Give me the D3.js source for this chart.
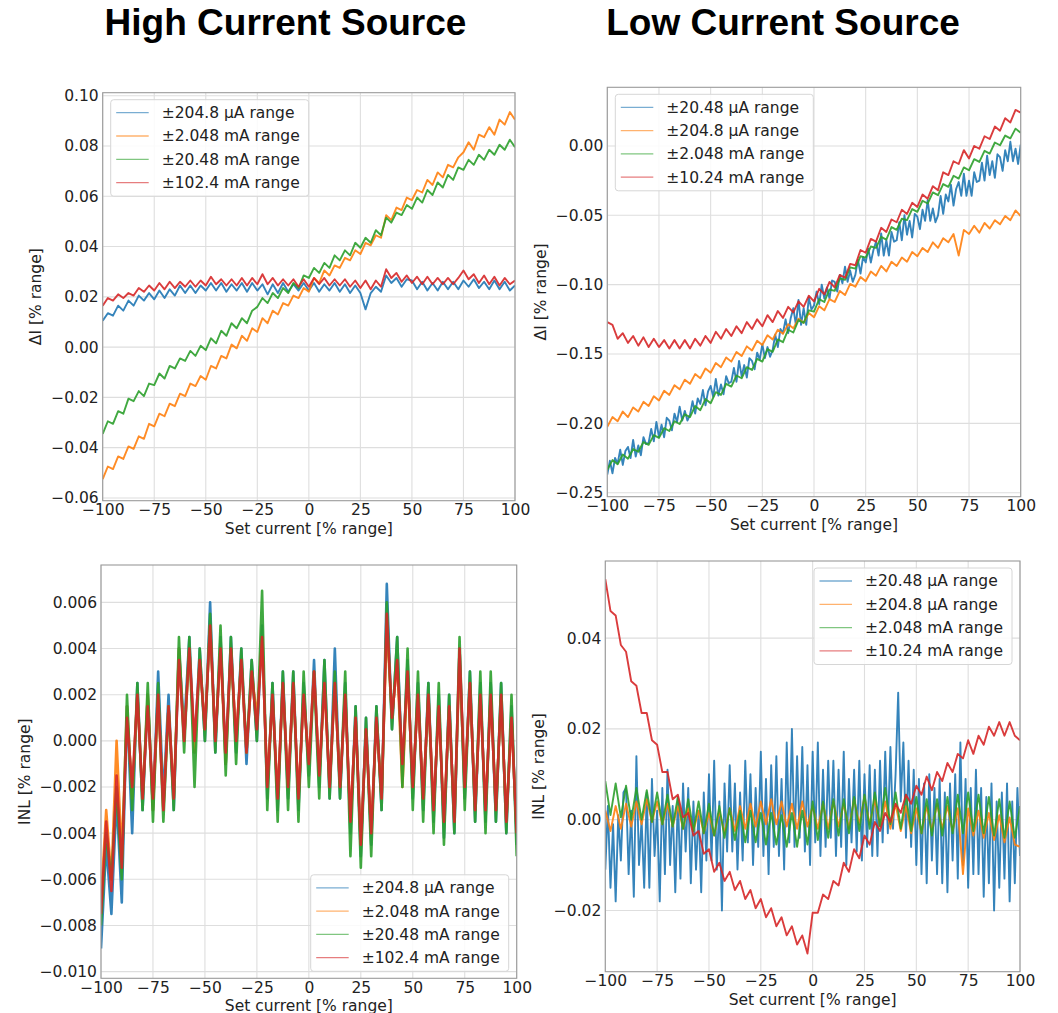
<!DOCTYPE html>
<html>
<head>
<meta charset="utf-8">
<script src="https://cdn.jsdelivr.net/npm/d3@7"></script>
<style>
  body { margin: 0; background: #fff; }
  svg { display: block; }
  .tick text { font-family: "DejaVu Sans", sans-serif; font-size: 15.5px; fill: #222; }
  .lbl { font-family: "DejaVu Sans", sans-serif; font-size: 15.5px; fill: #222; }
  .ttl { font-family: "Liberation Sans", Arial, sans-serif; font-size: 37px; font-weight: bold; fill: #000; }
</style>
</head>
<body>
<svg width="1058" height="1013"></svg>
<script>
// set-point grids (% of range)
const setPts = d3.range(-100, 100.001, 2.5)    // 81 samples
const setPtsFine = d3.range(-100, 100.001, 1.25) // 161 samples

const xTicks = [-100, -75, -50, -25, 0, 25, 50, 75, 100]

// ---- High current source, delta I [% range]
const hiDeltaLabels = ['±204.8 µA range', '±2.048 mA range', '±20.48 mA range', '±102.4 mA range']
const hiDelta204uA = [
  0.0105, 0.0135, 0.0125, 0.0165, 0.0145, 0.0185, 0.0165, 0.0205, 0.0185, 0.0215,
  0.019, 0.0225, 0.0195, 0.023, 0.0205, 0.0245, 0.0215, 0.0245, 0.0215, 0.0245,
  0.0225, 0.0255, 0.0225, 0.0255, 0.022, 0.025, 0.0225, 0.0255, 0.022, 0.0255,
  0.0225, 0.025, 0.021, 0.025, 0.0215, 0.0255, 0.022, 0.025, 0.0225, 0.0255,
  0.0225, 0.0255, 0.022, 0.025, 0.0225, 0.0255, 0.022, 0.025, 0.0215, 0.0245,
  0.0215, 0.015, 0.0215, 0.024, 0.022, 0.0285, 0.0255, 0.0275, 0.024, 0.027,
  0.0265, 0.023, 0.026, 0.0225, 0.0255, 0.0225, 0.026, 0.023, 0.026, 0.023,
  0.0265, 0.024, 0.027, 0.0235, 0.026, 0.023, 0.0265, 0.023, 0.026, 0.0225,
  0.0245]
const hiDelta2mA = [
  -0.0525, -0.0475, -0.0485, -0.0435, -0.0445, -0.0395, -0.0405, -0.0355, -0.0365, -0.0305,
  -0.0315, -0.0265, -0.0275, -0.0225, -0.0235, -0.0185, -0.0195, -0.0145, -0.0155, -0.0115,
  -0.013, -0.0075, -0.0085, -0.0035, -0.0045, 0.001, -0.0005, 0.0045, 0.0025, 0.0075,
  0.006, 0.0115, 0.0095, 0.0145, 0.013, 0.0175, 0.0165, 0.0205, 0.0195, 0.0235,
  0.022, 0.0275, 0.0255, 0.0305, 0.0285, 0.0325, 0.0315, 0.0355, 0.0345, 0.0385,
  0.037, 0.0415, 0.0405, 0.0445, 0.0435, 0.0525, 0.0505, 0.0555, 0.0545, 0.0595,
  0.0585, 0.0625, 0.0615, 0.0665, 0.0645, 0.0695, 0.0675, 0.0725, 0.0715, 0.0755,
  0.0775, 0.0815, 0.0785, 0.0845, 0.0835, 0.0875, 0.0845, 0.0905, 0.0885, 0.0935,
  0.0905]
const hiDelta20mA = [
  -0.0345, -0.0295, -0.0305, -0.0255, -0.0265, -0.0205, -0.0215, -0.0175, -0.0195, -0.0145,
  -0.0151, -0.0105, -0.0125, -0.0075, -0.0085, -0.0045, -0.0055, -0.0015, -0.0035, 0.0005,
  -0.0012, 0.0035, 0.0015, 0.0065, 0.0045, 0.0095, 0.0075, 0.0115, 0.0095, 0.0145,
  0.016, 0.0195, 0.0175, 0.0215, 0.0195, 0.0235, 0.0215, 0.0255, 0.0235, 0.0285,
  0.0275, 0.0315, 0.0295, 0.0335, 0.0315, 0.0365, 0.0345, 0.0385, 0.0365, 0.0415,
  0.0395, 0.0435, 0.0415, 0.0465, 0.0445, 0.0515, 0.0495, 0.0535, 0.0525, 0.0565,
  0.055, 0.0595, 0.0575, 0.0625, 0.0605, 0.0655, 0.0635, 0.0685, 0.0665, 0.0715,
  0.0705, 0.0745, 0.0725, 0.0765, 0.0745, 0.0785, 0.0765, 0.0805, 0.0785, 0.0825,
  0.0795]
const hiDelta102mA = [
  0.0165, 0.0195, 0.0185, 0.021, 0.0195, 0.0215, 0.0205, 0.0235, 0.022, 0.0245,
  0.0225, 0.0255, 0.023, 0.026, 0.0235, 0.026, 0.024, 0.0265, 0.024, 0.0265,
  0.0245, 0.028, 0.025, 0.027, 0.0245, 0.027, 0.0245, 0.0275, 0.0245, 0.0275,
  0.025, 0.029, 0.025, 0.0275, 0.0245, 0.027, 0.0245, 0.027, 0.024, 0.027,
  0.024, 0.0275, 0.025, 0.0275, 0.0245, 0.027, 0.0245, 0.027, 0.024, 0.0265,
  0.0235, 0.0265, 0.023, 0.0265, 0.024, 0.031, 0.0275, 0.0295, 0.026, 0.0285,
  0.0255, 0.028, 0.025, 0.028, 0.025, 0.0275, 0.025, 0.0275, 0.025, 0.0275,
  0.0305, 0.027, 0.029, 0.0255, 0.0285, 0.025, 0.028, 0.0245, 0.0275, 0.025,
  0.0265]

// ---- Low current source, delta I [% range]
const loDeltaLabels = ['±20.48 µA range', '±204.8 µA range', '±2.048 mA range', '±10.24 mA range']
const loDelta20uA = [ // fine grid
  -0.237, -0.227, -0.236, -0.225, -0.229, -0.219, -0.230, -0.220,
  -0.217, -0.225, -0.212, -0.224, -0.216, -0.223, -0.210, -0.215,
  -0.214, -0.204, -0.213, -0.199, -0.210, -0.201, -0.210, -0.196,
  -0.198, -0.205, -0.193, -0.199, -0.188, -0.198, -0.191, -0.198,
  -0.194, -0.184, -0.193, -0.182, -0.186, -0.176, -0.187, -0.177,
  -0.173, -0.181, -0.168, -0.180, -0.172, -0.179, -0.166, -0.171,
  -0.170, -0.160, -0.170, -0.155, -0.166, -0.158, -0.167, -0.153,
  -0.155, -0.161, -0.149, -0.154, -0.143, -0.153, -0.145, -0.152,
  -0.147, -0.136, -0.145, -0.132, -0.135, -0.125, -0.135, -0.124,
  -0.117, -0.129, -0.111, -0.129, -0.117, -0.129, -0.109, -0.118,
  -0.115, -0.105, -0.114, -0.100, -0.110, -0.102, -0.110, -0.097,
  -0.098, -0.105, -0.093, -0.099, -0.087, -0.098, -0.090, -0.098,
  -0.093, -0.082, -0.092, -0.080, -0.084, -0.074, -0.084, -0.075,
  -0.069, -0.079, -0.063, -0.079, -0.068, -0.079, -0.062, -0.069,
  -0.068, -0.055, -0.068, -0.050, -0.064, -0.054, -0.066, -0.049,
  -0.051, -0.060, -0.046, -0.054, -0.039, -0.054, -0.045, -0.055,
  -0.050, -0.036, -0.049, -0.035, -0.040, -0.028, -0.043, -0.031,
  -0.026, -0.036, -0.020, -0.036, -0.025, -0.036, -0.019, -0.026,
  -0.025, -0.012, -0.025, -0.007, -0.021, -0.011, -0.023, -0.006,
  -0.008, -0.018, -0.003, -0.011, 0.003, -0.011, -0.002, -0.013,
  0.001]
const loDelta204uA = [
  -0.2025, -0.1955, -0.1985, -0.1915, -0.1955, -0.1885, -0.1915, -0.1845, -0.1875, -0.1805,
  -0.1835, -0.1765, -0.1795, -0.1725, -0.1755, -0.1685, -0.1715, -0.1645, -0.1675, -0.1605,
  -0.1635, -0.1565, -0.1595, -0.1525, -0.1555, -0.1485, -0.1515, -0.1445, -0.1475, -0.1405,
  -0.1435, -0.1365, -0.1395, -0.1325, -0.1355, -0.1285, -0.1315, -0.1245, -0.1275, -0.1205,
  -0.1235, -0.1155, -0.1185, -0.1105, -0.1125, -0.1045, -0.1075, -0.0995, -0.1015, -0.0945,
  -0.0975, -0.0905, -0.0935, -0.0865, -0.0905, -0.0835, -0.0865, -0.0805, -0.0835, -0.0765,
  -0.0795, -0.0735, -0.0765, -0.0695, -0.0735, -0.0665, -0.0695, -0.0635, -0.079, -0.0605,
  -0.0635, -0.0575, -0.0625, -0.0555, -0.0595, -0.0535, -0.0565, -0.0505, -0.0535, -0.0465,
  -0.0505]
const loDelta2mA = [
  -0.2335, -0.2265, -0.2295, -0.2225, -0.2255, -0.2185, -0.2205, -0.2135, -0.2155, -0.2085,
  -0.2105, -0.2035, -0.2055, -0.1985, -0.2005, -0.1935, -0.1955, -0.1875, -0.1905, -0.1825,
  -0.1855, -0.1775, -0.1795, -0.1715, -0.1735, -0.1655, -0.1675, -0.1595, -0.1615, -0.1535,
  -0.1555, -0.1465, -0.1485, -0.1395, -0.1415, -0.1325, -0.1345, -0.1255, -0.1275, -0.1185,
  -0.1195, -0.1105, -0.1125, -0.1035, -0.1045, -0.0955, -0.0965, -0.0875, -0.0885, -0.0795,
  -0.0805, -0.0725, -0.0735, -0.0655, -0.0675, -0.0585, -0.0605, -0.0525, -0.0535, -0.0455,
  -0.0475, -0.0395, -0.0415, -0.0335, -0.0355, -0.0275, -0.0295, -0.0215, -0.0235, -0.0155,
  -0.0175, -0.0095, -0.0115, -0.0035, -0.0055, 0.0025, 0.0005, 0.0075, 0.0055, 0.0125,
  0.0095]
const loDelta10mA = [
  -0.127, -0.129, -0.139, -0.135, -0.142, -0.137, -0.144, -0.138, -0.145, -0.139,
  -0.145, -0.140, -0.146, -0.140, -0.146, -0.140, -0.146, -0.139, -0.144, -0.137,
  -0.142, -0.134, -0.139, -0.132, -0.137, -0.130, -0.135, -0.127, -0.132, -0.125,
  -0.130, -0.122, -0.127, -0.119, -0.124, -0.116, -0.120, -0.112, -0.116, -0.108,
  -0.112, -0.103, -0.107, -0.098, -0.102, -0.093, -0.095, -0.085, -0.086, -0.075,
  -0.077, -0.067, -0.069, -0.059, -0.062, -0.053, -0.055, -0.046, -0.049, -0.041,
  -0.044, -0.035, -0.038, -0.029, -0.032, -0.019, -0.021, -0.011, -0.013, -0.003,
  -0.009, 0.000, -0.002, 0.007, 0.005, 0.014, 0.011, 0.020, 0.017, 0.026,
  0.024]

// ---- High current source, INL [% range]
const hiInl204uA = [
  -0.0090, -0.0045, -0.0075, -0.0025, -0.0070, 0.0015, -0.0040, 0.0025, -0.0030, 0.0020,
  -0.0030, 0.0030, -0.0025, 0.0020, -0.0030, 0.0040, 0.0005, 0.0045, -0.0005, 0.0040,
  0.0000, 0.0060, -0.0005, 0.0045, -0.0010, 0.0045, -0.0005, 0.0040, -0.0010, 0.0035,
  0.0000, 0.0050, -0.0025, 0.0025, -0.0030, 0.0030, -0.0025, 0.0030, -0.0030, 0.0025,
  -0.0015, 0.0035, -0.0020, 0.0035, -0.0025, 0.0040, -0.0025, 0.0025, -0.0040, 0.0015,
  -0.0050, 0.0010, -0.0045, 0.0015, -0.0030, 0.0068, 0.0005, 0.0045, -0.0015, 0.0035,
  -0.0025, 0.0025, -0.0030, 0.0025, -0.0035, 0.0020, -0.0042, 0.0020, -0.0040, 0.0040,
  -0.0025, 0.0030, -0.0035, 0.0025, -0.0035, 0.0025, -0.0035, 0.0025, -0.0040, 0.0015,
  -0.0045]
const hiInl2mA = [
  -0.0070, -0.0030, -0.0060, 0.0000, -0.0050, 0.0015, -0.0025, 0.0020, -0.0025, 0.0020,
  -0.0030, 0.0020, -0.0030, 0.0015, -0.0025, 0.0040, 0.0000, 0.0040, -0.0005, 0.0035,
  0.0005, 0.0050, 0.0000, 0.0040, -0.0010, 0.0040, 0.0000, 0.0035, -0.0005, 0.0030,
  0.0010, 0.0045, -0.0020, 0.0020, -0.0025, 0.0025, -0.0020, 0.0025, -0.0025, 0.0020,
  -0.0010, 0.0030, -0.0015, 0.0025, -0.0020, 0.0025, -0.0020, 0.0020, -0.0035, 0.0010,
  -0.0045, 0.0005, -0.0040, 0.0010, -0.0025, 0.0050, 0.0010, 0.0035, -0.0020, 0.0030,
  -0.0020, 0.0020, -0.0025, 0.0020, -0.0030, 0.0015, -0.0035, 0.0015, -0.0035, 0.0035,
  -0.0020, 0.0025, -0.0030, 0.0020, -0.0030, 0.0020, -0.0030, 0.0020, -0.0035, 0.0010,
  -0.0040]
const hiInl20mA = [
  -0.0080, -0.0040, -0.0060, -0.0020, -0.0060, 0.0020, -0.0030, 0.0025, -0.0030, 0.0025,
  -0.0035, 0.0025, -0.0035, 0.0015, -0.0030, 0.0045, -0.0005, 0.0045, -0.0020, 0.0040,
  0.0000, 0.0055, -0.0005, 0.0050, -0.0015, 0.0045, -0.0010, 0.0040, -0.0005, 0.0035,
  0.0000, 0.0065, -0.0030, 0.0025, -0.0035, 0.0030, -0.0030, 0.0030, -0.0035, 0.0030,
  -0.0020, 0.0030, -0.0025, 0.0035, -0.0025, 0.0030, -0.0025, 0.0030, -0.0050, 0.0015,
  -0.0055, 0.0010, -0.0050, 0.0015, -0.0030, 0.0060, 0.0005, 0.0045, -0.0020, 0.0040,
  -0.0030, 0.0030, -0.0035, 0.0025, -0.0040, 0.0025, -0.0045, 0.0020, -0.0040, 0.0045,
  -0.0030, 0.0030, -0.0035, 0.0030, -0.0040, 0.0030, -0.0035, 0.0025, -0.0040, 0.0020,
  -0.0050]
const hiInl102mA = [
  -0.0075, -0.0035, -0.0065, -0.0015, -0.0055, 0.0010, -0.0020, 0.0020, -0.0025, 0.0015,
  -0.0025, 0.0020, -0.0030, 0.0015, -0.0025, 0.0035, 0.0000, 0.0040, 0.0000, 0.0035,
  0.0005, 0.0050, 0.0000, 0.0040, -0.0005, 0.0040, 0.0000, 0.0035, -0.0005, 0.0030,
  0.0005, 0.0045, -0.0020, 0.0020, -0.0025, 0.0025, -0.0020, 0.0025, -0.0025, 0.0020,
  -0.0010, 0.0030, -0.0015, 0.0025, -0.0020, 0.0025, -0.0020, 0.0020, -0.0035, 0.0010,
  -0.0045, 0.0005, -0.0040, 0.0010, -0.0025, 0.0055, 0.0010, 0.0035, -0.0010, 0.0030,
  -0.0020, 0.0020, -0.0025, 0.0020, -0.0030, 0.0015, -0.0035, 0.0015, -0.0035, 0.0040,
  -0.0020, 0.0025, -0.0030, 0.0020, -0.0030, 0.0020, -0.0030, 0.0020, -0.0035, 0.0010,
  -0.0040]

// ---- Low current source, INL [% range]
const loInl20uA = [ // fine grid
  -0.011, 0.003, -0.015, -0.001, -0.018, 0.001, -0.009, 0.006,
  0.007, -0.012, 0.002, -0.017, 0.014, -0.010, 0.000, -0.015,
  0.006, -0.015, 0.009, -0.008, 0.002, -0.018, 0.007, -0.012,
  0.011, -0.010, 0.003, -0.016, 0.005, -0.013, 0.008, -0.007,
  0.007, -0.014, 0.004, -0.011, 0.002, -0.016, 0.006, -0.009,
  0.010, -0.009, 0.013, -0.011, 0.004, -0.020, 0.008, -0.007,
  0.012, -0.007, 0.008, -0.011, 0.006, -0.009, 0.013, -0.005,
  0.010, -0.010, 0.007, -0.006, 0.015, -0.008, 0.009, -0.012,
  0.012, -0.006, 0.014, -0.008, 0.009, -0.011, 0.017, -0.005,
  0.020, -0.006, 0.014, -0.004, 0.016, -0.007, 0.012, -0.010,
  0.015, -0.005, 0.017, -0.008, 0.011, -0.006, 0.013, -0.004,
  0.013, -0.008, 0.011, -0.006, 0.015, -0.010, 0.009, -0.005,
  0.011, -0.007, 0.013, -0.009, 0.010, -0.006, 0.012, -0.008,
  0.011, -0.008, 0.013, -0.005, 0.015, -0.003, 0.016, -0.002,
  0.010, 0.028, 0.004, 0.017, -0.004, 0.013, -0.006, 0.011,
  -0.010, 0.009, -0.012, 0.008, -0.014, 0.010, -0.009, 0.007,
  -0.012, 0.009, -0.014, 0.006, -0.016, 0.008, -0.009, 0.010,
  -0.013, 0.017, -0.010, 0.009, -0.015, 0.007, -0.012, 0.011,
  -0.012, 0.007, -0.017, 0.005, -0.014, 0.008, -0.020, 0.004,
  -0.015, 0.006, -0.013, 0.008, -0.018, 0.004, -0.014, 0.007,
  -0.008]
const loInl204uA = [
  0.0020, -0.0025, 0.0030, -0.0020, 0.0035, -0.0015, 0.0040, -0.0010, 0.0045, -0.0005,
  0.0040, -0.0010, 0.0035, -0.0015, 0.0030, -0.0020, 0.0025, -0.0025, 0.0020, -0.0030,
  0.0015, -0.0035, 0.0020, -0.0030, 0.0025, -0.0025, 0.0030, -0.0020, 0.0035, -0.0015,
  0.0040, -0.0010, 0.0045, -0.0010, 0.0040, -0.0015, 0.0035, -0.0020, 0.0040, -0.0015,
  0.0030, -0.0020, 0.0035, -0.0020, 0.0040, -0.0015, 0.0035, -0.0020, 0.0045, -0.0010,
  0.0050, -0.0010, 0.0045, -0.0015, 0.0040, -0.0020, 0.0035, -0.0025, 0.0030, -0.0030,
  0.0025, -0.0030, 0.0030, -0.0025, 0.0035, -0.0020, 0.0030, -0.0025, 0.0025, -0.0120,
  0.0025, -0.0035, 0.0020, -0.0040, 0.0015, -0.0045, 0.0010, -0.0050, 0.0005, -0.0055,
  -0.0060]
const loInl2mA = [
  0.0085, 0.0010, 0.0080, 0.0005, 0.0075, 0.0000, 0.0070, 0.0000, 0.0065, -0.0005,
  0.0060, -0.0010, 0.0055, -0.0015, 0.0050, -0.0020, 0.0045, -0.0025, 0.0040, -0.0030,
  0.0035, -0.0035, 0.0030, -0.0040, 0.0025, -0.0045, 0.0020, -0.0050, 0.0020, -0.0050,
  0.0015, -0.0055, 0.0015, -0.0055, 0.0010, -0.0060, 0.0015, -0.0060, 0.0020, -0.0055,
  0.0040, -0.0045, 0.0040, -0.0040, 0.0045, -0.0035, 0.0045, -0.0030, 0.0050, -0.0025,
  0.0055, -0.0020, 0.0060, -0.0015, 0.0070, -0.0010, 0.0060, -0.0020, 0.0055, -0.0025,
  0.0050, -0.0030, 0.0045, -0.0035, 0.0045, -0.0035, 0.0050, -0.0030, 0.0055, -0.0030,
  0.0060, -0.0025, 0.0055, -0.0030, 0.0050, -0.0035, 0.0045, -0.0040, 0.0040, -0.0040,
  0.0030]
const loInl10mA = [
  0.0530, 0.0460, 0.0450, 0.0385, 0.0370, 0.0305, 0.0295, 0.0235, 0.0235, 0.0175,
  0.0165, 0.0105, 0.0105, 0.0045, 0.0055, 0.0005, 0.0015, -0.0035, -0.0025, -0.0075,
  -0.0065, -0.0115, -0.0095, -0.0135, -0.0115, -0.0155, -0.0135, -0.0175, -0.0155, -0.0195,
  -0.0175, -0.0215, -0.0195, -0.0235, -0.0215, -0.0255, -0.0235, -0.0275, -0.0255, -0.0295,
  -0.0205, -0.0205, -0.0165, -0.0175, -0.0135, -0.0145, -0.0095, -0.0115, -0.0065, -0.0085,
  -0.0035, -0.0055, -0.0005, -0.0025, 0.0015, -0.0005, 0.0035, 0.0015, 0.0055, 0.0035,
  0.0075, 0.0055, 0.0095, 0.0065, 0.0105, 0.0085, 0.0125, 0.0105, 0.0145, 0.0135,
  0.0175, 0.0145, 0.0185, 0.0165, 0.0205, 0.0185, 0.0215, 0.0185, 0.0215, 0.0185,
  0.0175]

const colors = ['#1f77b4', '#ff7f0e', '#2ca02c', '#d62728']
const fmtMinus = f => v => f(v).replace('-', '\u2212')

const panels = [
  {
    box: [102.7, 92.7, 515, 500.7], yDomain: [-0.0611, 0.1012], lw: 1.9,
    yTicks: [-0.06, -0.04, -0.02, 0, 0.02, 0.04, 0.06, 0.08, 0.10], yFmt: fmtMinus(d3.format('.2f')),
    ylabel: 'ΔI [% range]', legend: 'upper left', labels: hiDeltaLabels,
    series: [[setPts, hiDelta204uA], [setPts, hiDelta2mA], [setPts, hiDelta20mA], [setPts, hiDelta102mA]]
  },
  {
    box: [607.3, 87.3, 1020.7, 496.7], yDomain: [-0.2529, 0.0423], lw: 1.9,
    yTicks: [-0.25, -0.20, -0.15, -0.10, -0.05, 0], yFmt: fmtMinus(d3.format('.2f')),
    ylabel: 'ΔI [% range]', legend: 'upper left', labels: loDeltaLabels,
    series: [[setPtsFine, loDelta20uA], [setPts, loDelta204uA], [setPts, loDelta2mA], [setPts, loDelta10mA]]
  },
  {
    box: [101, 565, 516.7, 978.3], yDomain: [-0.01029, 0.00762], lw: 2.6,
    yTicks: [-0.010, -0.008, -0.006, -0.004, -0.002, 0, 0.002, 0.004, 0.006], yFmt: fmtMinus(d3.format('.3f')),
    ylabel: 'INL [% range]', legend: 'lower right', labels: hiDeltaLabels,
    series: [[setPts, hiInl204uA], [setPts, hiInl2mA], [setPts, hiInl20mA], [setPts, hiInl102mA]]
  },
  {
    box: [605.3, 561, 1020, 971.7], yDomain: [-0.0335, 0.0570], lw: 1.9,
    yTicks: [-0.02, 0, 0.02, 0.04], yFmt: fmtMinus(d3.format('.2f')),
    ylabel: 'INL [% range]', legend: 'upper right', labels: loDeltaLabels,
    series: [[setPtsFine, loInl20uA], [setPts, loInl204uA], [setPts, loInl2mA], [setPts, loInl10mA]]
  }
]

const svg = d3.select('svg')

svg.append('text').attr('class', 'ttl').attr('x', 285.5).attr('y', 35)
  .attr('text-anchor', 'middle').text('High Current Source')
svg.append('text').attr('class', 'ttl').attr('x', 783).attr('y', 35)
  .attr('text-anchor', 'middle').text('Low Current Source')

panels.forEach((p, pi) => {
  const [x0, y0, x1, y1] = p.box
  const x = d3.scaleLinear().domain([-100, 100]).range([x0, x1])
  const y = d3.scaleLinear().domain(p.yDomain).range([y1, y0])
  const g = svg.append('g')

  // grid
  g.append('g').selectAll('line').data(xTicks).join('line')
    .attr('x1', d => x(d)).attr('x2', d => x(d)).attr('y1', y0).attr('y2', y1)
    .attr('stroke', '#dedede').attr('stroke-width', 1.1)
  g.append('g').selectAll('line').data(p.yTicks).join('line')
    .attr('y1', d => y(d)).attr('y2', d => y(d)).attr('x1', x0).attr('x2', x1)
    .attr('stroke', '#dedede').attr('stroke-width', 1.1)

  // lines
  const clipId = 'clip' + pi
  g.append('clipPath').attr('id', clipId).append('rect')
    .attr('x', x0).attr('y', y0).attr('width', x1 - x0).attr('height', y1 - y0)
  const line = d3.line().x(d => x(d[0])).y(d => y(d[1]))
  g.append('g').attr('clip-path', `url(#${clipId})`)
    .selectAll('path').data(p.series).join('path')
    .attr('d', s => line(d3.zip(s[0], s[1])))
    .attr('fill', 'none')
    .attr('stroke', (s, i) => colors[i])
    .attr('stroke-width', p.lw)
    .attr('stroke-opacity', 0.9)
    .attr('stroke-linejoin', 'round')

  // frame
  g.append('rect').attr('x', x0).attr('y', y0).attr('width', x1 - x0).attr('height', y1 - y0)
    .attr('fill', 'none').attr('stroke', '#9a9a9a').attr('stroke-width', 1.1)

  // axes
  const gx = g.append('g').attr('transform', `translate(0,${y1})`)
    .call(d3.axisBottom(x).tickValues(xTicks).tickSize(0).tickPadding(3.5)
      .tickFormat(fmtMinus(d3.format('d'))))
  gx.select('.domain').remove()
  const gy = g.append('g').attr('transform', `translate(${x0},0)`)
    .call(d3.axisLeft(y).tickValues(p.yTicks).tickSize(0).tickPadding(4).tickFormat(p.yFmt))
  gy.select('.domain').remove()

  g.append('text').attr('class', 'lbl').attr('x', (x0 + x1) / 2).attr('y', y1 + 33)
    .attr('text-anchor', 'middle').text('Set current [% range]')
  const yb = gy.node().getBBox()
  const lx = x0 + yb.x - 10
  g.append('text').attr('class', 'lbl')
    .attr('transform', `translate(${lx},${(y0 + y1) / 2}) rotate(-90)`)
    .attr('text-anchor', 'middle').text(p.ylabel)

  // legend
  const leg = g.append('g')
  const items = leg.selectAll('g').data(p.labels).join('g')
  items.append('line').attr('x1', 5.5).attr('x2', 38)
    .attr('y1', (d, i) => 13 + i * 23.3).attr('y2', (d, i) => 13 + i * 23.3)
    .attr('stroke', (d, i) => colors[i]).attr('stroke-width', 1.3).attr('stroke-opacity', 0.6)
  items.append('text').attr('class', 'lbl').attr('x', 51).attr('y', (d, i) => 13 + i * 23.3)
    .attr('dy', '0.35em').text(d => d)
  const tw = d3.max(items.selectAll('text').nodes(), n => n.getComputedTextLength())
  const bw = 51 + tw + 9, bh = 96.5
  leg.insert('rect', ':first-child').attr('width', bw).attr('height', bh).attr('rx', 3)
    .attr('fill', '#fff').attr('fill-opacity', 0.85).attr('stroke', '#d6d6d6')
  const lxp = p.legend.includes('left') ? x0 + 8 : x1 - 8 - bw
  const lyp = p.legend.includes('upper') ? y0 + 7 : y1 - 7 - bh
  leg.attr('transform', `translate(${lxp},${lyp})`)
})
</script>
</body>
</html>
